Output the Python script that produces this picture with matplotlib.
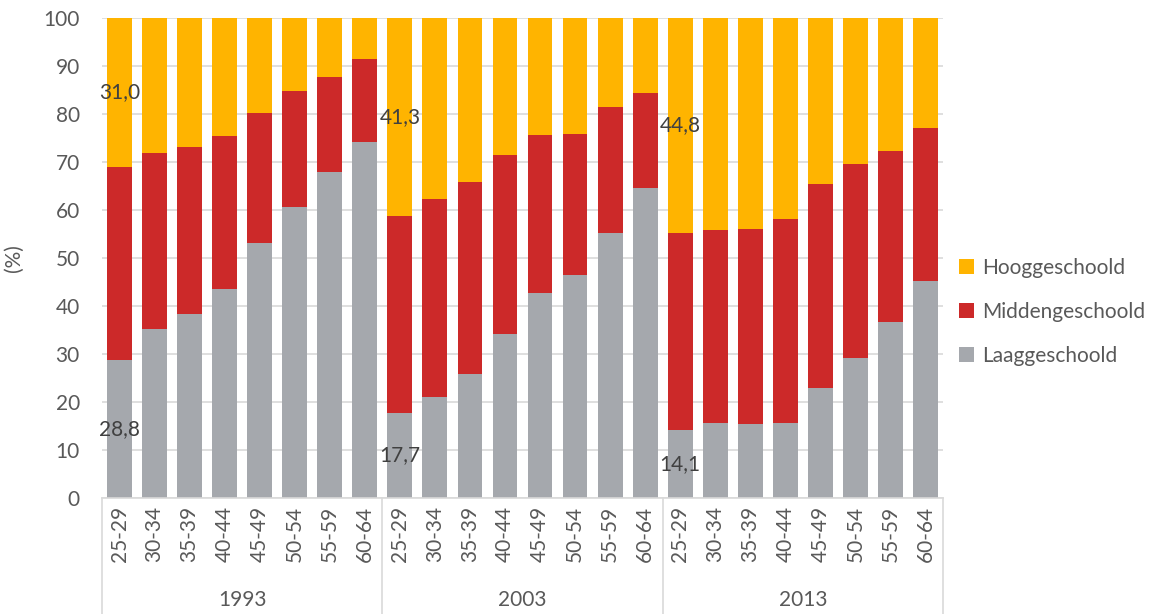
import matplotlib.pyplot as plt
import matplotlib.transforms as mtransforms
import numpy as np

plt.rcParams['font.family'] = ['Lato', 'DejaVu Sans']

years = ['1993', '2003', '2013']
ages = ['25-29', '30-34', '35-39', '40-44', '45-49', '50-54', '55-59', '60-64']

# laaggeschoold share per bar (1993, 2003, 2013 in order)
laag = [28.8, 35.1, 38.3, 43.6, 53.2, 60.6, 68.0, 74.1,
        17.7, 21.1, 25.9, 34.2, 42.8, 46.4, 55.3, 64.5,
        14.1, 15.7, 15.4, 15.6, 22.9, 29.2, 36.7, 45.3]
# cumulative top of middengeschoold (laag + midden)
midden_top = [69.0, 71.8, 73.2, 75.5, 80.3, 84.7, 87.8, 91.4,
              58.7, 62.2, 65.9, 71.4, 75.7, 75.9, 81.4, 84.4,
              55.2, 55.8, 56.1, 58.2, 65.5, 69.5, 72.2, 77.0]

laag = np.array(laag)
midden = np.array(midden_top) - laag
hoog = 100 - np.array(midden_top)

c_hoog = '#FFB400'
c_mid = '#CC2929'
c_laag = '#A5A8AD'
txt = '#595959'
fs = 15

fig = plt.figure(figsize=(11.57, 6.14), dpi=100)
ax = fig.add_axes([0.0882, 0.189, 0.7268, 0.7817])

x = np.arange(len(laag))
w = 0.71
ax.bar(x, laag, w, color=c_laag, label='Laaggeschoold', zorder=2)
ax.bar(x, midden, w, bottom=laag, color=c_mid, label='Middengeschoold', zorder=2)
ax.bar(x, hoog, w, bottom=laag + midden, color=c_hoog, label='Hooggeschoold', zorder=2)

ax.set_xlim(-0.5, len(laag) - 0.5)
ax.set_ylim(0, 100)
ax.set_yticks(range(0, 101, 10))
ax.tick_params(axis='y', length=0, labelsize=fs, labelcolor=txt, pad=16)
ax.yaxis.grid(True, color='#D9D9D9', linewidth=1.2, zorder=0)
ax.set_ylabel('(%)', fontsize=fs, color=txt, labelpad=14)
for s in ['top', 'right', 'left']:
    ax.spines[s].set_visible(False)
ax.spines['bottom'].set_color('#D9D9D9')
ax.spines['bottom'].set_linewidth(1.2)

# category labels
ax.set_xticks(x)
ax.set_xticklabels(ages * len(years), rotation=90, fontsize=fs, color=txt)
ax.tick_params(axis='x', length=0, pad=6)

# group labels and separators
trans = mtransforms.blended_transform_factory(ax.transData, ax.transAxes)
n = len(ages)
for i, yr in enumerate(years):
    ax.text(i * n + (n - 1) / 2, -0.212, yr, transform=trans, ha='center', va='center',
            fontsize=fs, color=txt)
for b in range(len(years) + 1):
    ax.plot([b * n - 0.5, b * n - 0.5], [0, -0.26], transform=trans, color='#D9D9D9',
            linewidth=1.2, clip_on=False)

# data labels on first bar of each group
for i in range(len(years)):
    k = i * n
    ax.text(k, laag[k] / 2, f'{laag[k]:.1f}'.replace('.', ','), ha='center', va='center',
            fontsize=fs, color='#404040', zorder=3)
    ax.text(k, 100 - hoog[k] / 2, f'{hoog[k]:.1f}'.replace('.', ','), ha='center', va='center',
            fontsize=fs, color='#404040', zorder=3)

handles, labels = ax.get_legend_handles_labels()
fig.legend(handles[::-1], labels[::-1], loc='center left', bbox_to_anchor=(0.813, 0.492),
           frameon=False, fontsize=fs, labelcolor=txt, handlelength=0.7, handleheight=0.7,
           handletextpad=0.4, labelspacing=1.15)

fig.savefig('out.png', dpi=100)
